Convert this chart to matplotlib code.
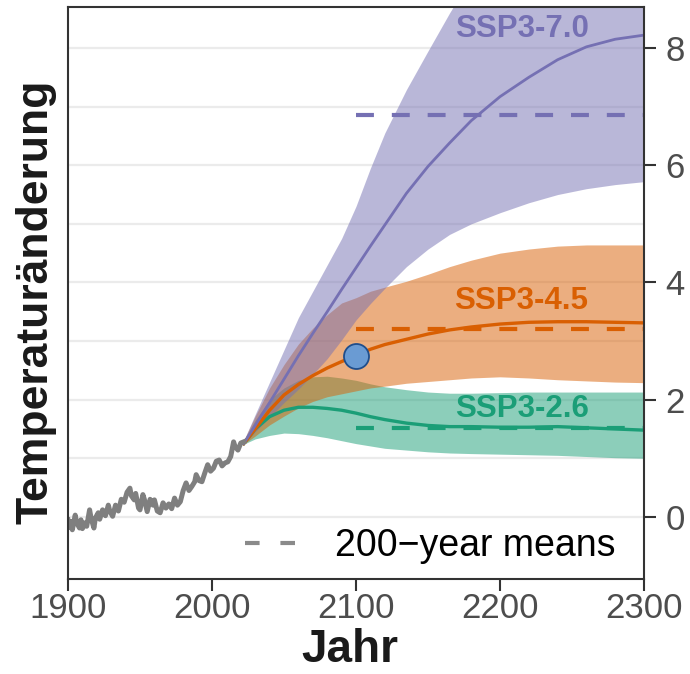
import matplotlib.pyplot as plt
from matplotlib.lines import Line2D

plt.rcParams['font.family'] = ['Liberation Sans', 'DejaVu Sans']

# observed temperature change (historical)
hist_years = [1900, 1901, 1902, 1903, 1905, 1906, 1908, 1909, 1910, 1912, 1913, 1915,
              1916, 1918, 1919, 1921, 1922, 1924, 1926, 1928, 1929, 1931, 1933, 1935,
              1937, 1939, 1941, 1943, 1944, 1946, 1947, 1949, 1950, 1952, 1953, 1955,
              1957, 1959, 1960, 1962, 1964, 1966, 1968, 1970, 1972, 1974, 1976, 1978,
              1980, 1982, 1984, 1986, 1988, 1989, 1991, 1993, 1995, 1997, 1999, 2001,
              2003, 2005, 2007, 2009, 2011, 2013, 2015, 2016, 2018, 2020, 2022]
hist_temp = [-0.05, -0.18, -0.08, -0.22, 0.03, -0.10, -0.19, -0.05, -0.20, -0.10, -0.16, 0.12,
             -0.02, -0.19, -0.02, 0.07, -0.04, 0.12, 0.02, 0.20, 0.10, 0.01, 0.20, 0.10,
             0.30, 0.25, 0.42, 0.49, 0.36, 0.29, 0.40, 0.15, 0.12, 0.38, 0.30, 0.09,
             0.30, 0.20, 0.29, 0.10, 0.07, 0.24, 0.15, 0.22, 0.14, 0.32, 0.20, 0.26,
             0.45, 0.58, 0.45, 0.52, 0.60, 0.72, 0.62, 0.60, 0.75, 0.89, 0.78, 0.83,
             0.95, 0.97, 0.87, 0.92, 0.94, 1.03, 1.28, 1.20, 1.14, 1.26, 1.28]

# projections
proj_years = [2022, 2030, 2040, 2050, 2060, 2070, 2080, 2090, 2100, 2110, 2120,
              2135, 2150, 2165, 2180, 2200, 2220, 2240, 2260, 2280, 2300]

ssp70_mean = [1.25, 1.56, 1.95, 2.35, 2.75, 3.13, 3.50, 3.88, 4.25, 4.62, 4.98,
              5.52, 5.98, 6.38, 6.76, 7.17, 7.50, 7.80, 8.02, 8.15, 8.22]
ssp70_high = [1.30, 1.75, 2.30, 2.85, 3.40, 3.85, 4.30, 4.75, 5.30, 5.95, 6.55,
              7.29, 7.95, 8.60, 9.20, 9.90, 10.5, 11.0, 11.4, 11.7, 12.0]
ssp70_low = [1.24, 1.45, 1.70, 1.95, 2.18, 2.43, 2.70, 3.02, 3.36, 3.64, 3.90,
             4.27, 4.57, 4.82, 5.00, 5.19, 5.36, 5.50, 5.60, 5.67, 5.72]

ssp45_mean = [1.25, 1.50, 1.82, 2.08, 2.26, 2.41, 2.54, 2.65, 2.75, 2.86, 2.94,
              3.03, 3.12, 3.19, 3.24, 3.29, 3.32, 3.33, 3.33, 3.32, 3.31]
ssp45_high = [1.30, 1.72, 2.20, 2.60, 2.95, 3.22, 3.45, 3.65, 3.74, 3.85, 3.92,
              4.02, 4.14, 4.27, 4.38, 4.50, 4.57, 4.62, 4.64, 4.64, 4.64]
ssp45_low = [1.24, 1.38, 1.57, 1.72, 1.86, 1.97, 2.05, 2.10, 2.15, 2.20, 2.23,
             2.28, 2.31, 2.34, 2.37, 2.39, 2.37, 2.34, 2.32, 2.30, 2.29]

ssp26_mean = [1.25, 1.50, 1.71, 1.82, 1.87, 1.87, 1.85, 1.82, 1.77, 1.71, 1.66,
              1.60, 1.56, 1.54, 1.54, 1.53, 1.53, 1.54, 1.52, 1.50, 1.48]
ssp26_high = [1.30, 1.65, 2.00, 2.20, 2.33, 2.39, 2.40, 2.37, 2.33, 2.27, 2.22,
              2.17, 2.13, 2.11, 2.11, 2.12, 2.13, 2.13, 2.13, 2.13, 2.13]
ssp26_low = [1.24, 1.33, 1.39, 1.43, 1.42, 1.39, 1.35, 1.30, 1.25, 1.21, 1.17,
             1.14, 1.11, 1.09, 1.08, 1.07, 1.06, 1.05, 1.03, 1.01, 1.00]

# 200-year means (2100-2300)
mean_years = [2100, 2300]
means_200 = {'SSP3-2.6': 1.52, 'SSP3-4.5': 3.20, 'SSP3-7.0': 6.86}

labels = ['SSP3-2.6', 'SSP3-4.5', 'SSP3-7.0']
label_x = 2215
label_y = [1.84, 3.69, 8.33]

marker_year = 2100
marker_temp = 2.75

purple = '#7570b3'
orange = '#d95f02'
green = '#1b9e77'

fig = plt.figure(figsize=(6.9, 6.74), dpi=100)
ax = fig.add_axes([68/690, 1 - 579/674, 576/690, 572/674])

# bands (green, orange, then purple on top)
ax.fill_between(proj_years, ssp26_low, ssp26_high, color=green, alpha=0.5, lw=0)
ax.fill_between(proj_years, ssp45_low, ssp45_high, color=orange, alpha=0.5, lw=0)
ax.fill_between(proj_years, ssp70_low, ssp70_high, color=purple, alpha=0.5, lw=0)

# 200-year means
dash = (0, (4.3, 4.3))
for name, c in zip(labels, [green, orange, purple]):
    ax.plot(mean_years, [means_200[name]] * 2, color=c, lw=3, linestyle=dash)

# mean lines
ax.plot(proj_years, ssp26_mean, color=green, lw=2.4)
ax.plot(proj_years, ssp45_mean, color=orange, lw=2.4)
ax.plot(proj_years, ssp70_mean, color=purple, lw=2.0)
ax.plot(hist_years, hist_temp, color='#7f7f7f', lw=3.6)

ax.plot(marker_year, marker_temp, 'o', ms=18, mfc='#6a9bd3', mec='#1f4e8c', mew=1.3)

for name, y, c in zip(labels, label_y, [green, orange, purple]):
    ax.text(label_x, y, name, color=c, fontsize=22.5, fontweight='bold',
            ha='center', va='center')

# legend
handle = Line2D([], [], color='#8a8a8a', lw=3, linestyle=(0, (3.5, 5)))
leg = ax.legend([handle], ['200\u2212year means'], loc='center right',
                bbox_to_anchor=(0.95, 0.058), frameon=False, fontsize=27,
                handlelength=1.4, handletextpad=1.0, borderpad=0, borderaxespad=0)

ax.set_xlim(1900, 2300)
ax.set_ylim(-1.06, 8.7)
ax.set_xticks([1900, 2000, 2100, 2200, 2300])
ax.set_yticks([0, 2, 4, 6, 8])
ax.set_yticks([1, 3, 5, 7], minor=True)
ax.yaxis.tick_right()
ax.tick_params(axis='y', which='minor', length=0)
ax.tick_params(which='major', length=8.5, width=1.5, color='#333333',
               labelsize=25, labelcolor='#4d4d4d')
ax.tick_params(axis='x', pad=1)
ax.tick_params(axis='y', pad=7)
ax.grid(axis='y', which='both', color='#ebebeb', lw=1.6)
ax.set_axisbelow(True)
for s in ax.spines.values():
    s.set_color('#333333')
    s.set_linewidth(1.5)

ax.set_xlabel('Jahr', fontsize=33, fontweight='bold', color='#1a1a1a')
ax.set_ylabel('Temperaturänderung', fontsize=32, fontweight='bold', color='#1a1a1a')
ax.xaxis.set_label_coords(0.49, -0.085)
ax.yaxis.set_label_coords(-0.02, 0.484)

fig.savefig('out.png', dpi=100)
